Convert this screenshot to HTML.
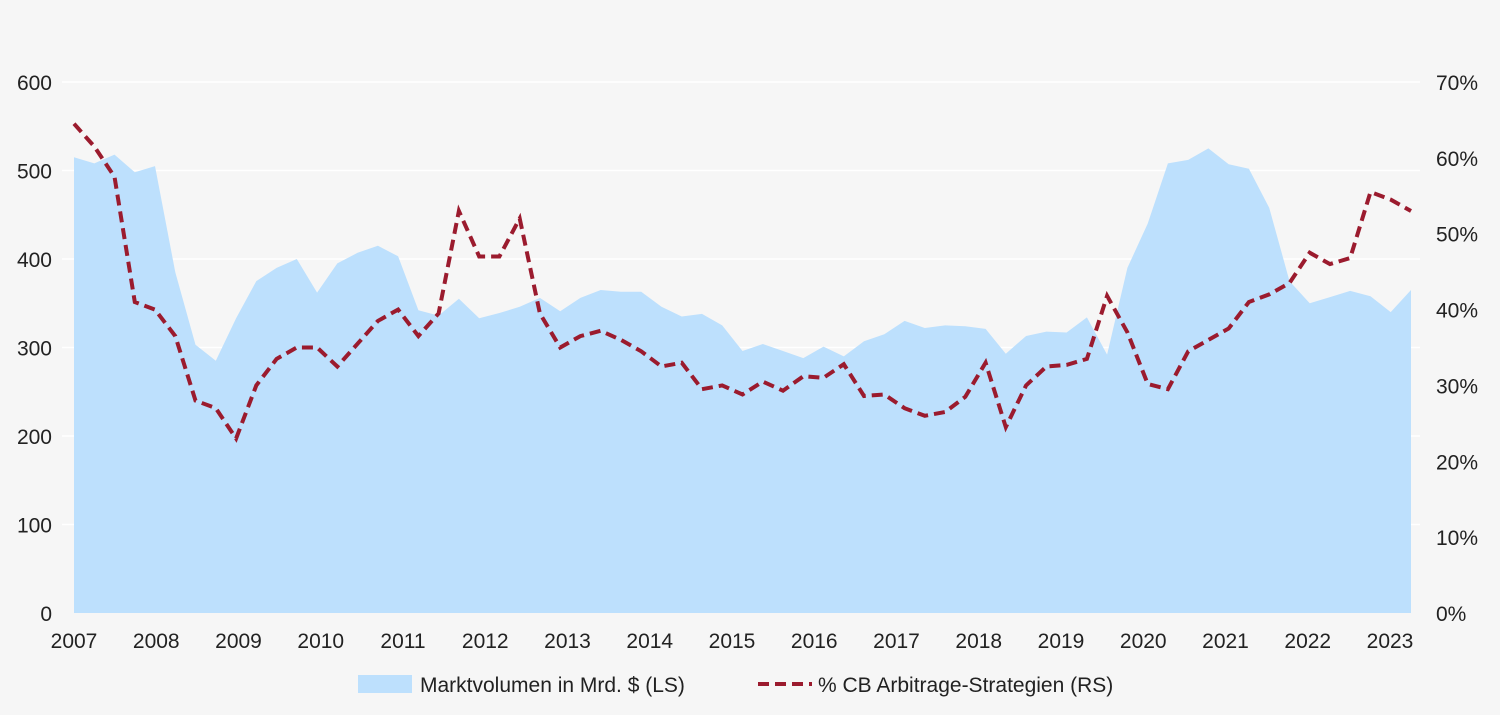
<!DOCTYPE html>
<html><head><meta charset="utf-8">
<style>
html,body{margin:0;padding:0;background:#f6f6f6;}
svg{display:block;font-family:"Liberation Sans","DejaVu Sans",sans-serif;}
</style></head><body>
<svg id="c" width="1500" height="715" xmlns="http://www.w3.org/2000/svg">
<rect width="1500" height="715" fill="#f6f6f6"/>
<g id="grid" stroke="#ffffff" stroke-width="1.5"></g>
<path id="area" fill="#bde0fd"/>
<path id="line" fill="none" stroke="#9b1b2e" stroke-width="4" stroke-dasharray="11,6"/>
<g id="labels" font-size="21" fill="#222"></g>
<rect x="358" y="675" width="54" height="18" fill="#bde0fd"/>
<text x="420" y="692" font-size="21" fill="#222">Marktvolumen in Mrd. $ (LS)</text>
<line x1="758" y1="684" x2="812" y2="684" stroke="#9b1b2e" stroke-width="4" stroke-dasharray="11,6"/>
<text x="818" y="692" font-size="21" fill="#222">% CB Arbitrage-Strategien (RS)</text>
</svg>
<script>
var A=[515,508,518,498,505,385,303,285,333,375,390,400,362,395,407,415,403,342,336,355,333,339,346,356,341,356,365,363,363,346,335,338,325,296,304,296,288,301,290,307,315,330,322,325,324,321,293,313,318,317,334,292,390,440,508,512,525,507,502,458,375,350,357,364,358,340,365];
var L=[64.5,61.5,57.5,41,40,36.5,28,27,23,30,33.5,35,35,32.5,35.5,38.5,40,36.5,39.5,53,47,47,52,39.5,35,36.5,37.2,36,34.5,32.5,33,29.5,30,28.8,30.5,29.3,31.2,31,32.8,28.6,28.8,27,26,26.5,28.5,33,24.5,30,32.5,32.7,33.5,41.8,37,30.2,29.5,34.5,36,37.5,41,42,43.5,47.5,46,46.8,55.5,54.5,53];
var x0=74,x1=1411,y0=613,yt=82,n=A.length,dx=(x1-x0)/(n-1);
function ya(v){return y0-v*(y0-yt)/600;}
function yr(v){return y0-v*(y0-yt)/70;}
var d="M"+x0+","+y0;
A.forEach(function(v,i){d+=" L"+(x0+i*dx).toFixed(1)+","+ya(v).toFixed(1);});
d+=" L"+x1+","+y0+" Z";
document.getElementById("area").setAttribute("d",d);
var l="";
L.forEach(function(v,i){l+=(i?" L":"M")+(x0+i*dx).toFixed(1)+","+yr(v).toFixed(1);});
document.getElementById("line").setAttribute("d",l);
var g=document.getElementById("grid"),lb=document.getElementById("labels"),ns="http://www.w3.org/2000/svg";
function t(x,y,s,a){var e=document.createElementNS(ns,"text");e.setAttribute("x",x);e.setAttribute("y",y);e.setAttribute("text-anchor",a);e.textContent=s;lb.appendChild(e);}
for(var k=0;k<=6;k++){var y=ya(k*100);
 if(k>0){var ln=document.createElementNS(ns,"line");ln.setAttribute("x1",62);ln.setAttribute("x2",1420);ln.setAttribute("y1",y);ln.setAttribute("y2",y);g.appendChild(ln);}
 t(52,y+8,String(k*100),"end");}
for(var k=0;k<=7;k++){t(1436,yr(k*10)+8,(k*10)+"%","start");}
for(var yv=2007;yv<=2023;yv++){t(74+(yv-2007)*82.25,648,String(yv),"middle");}
</script>
</body></html>
